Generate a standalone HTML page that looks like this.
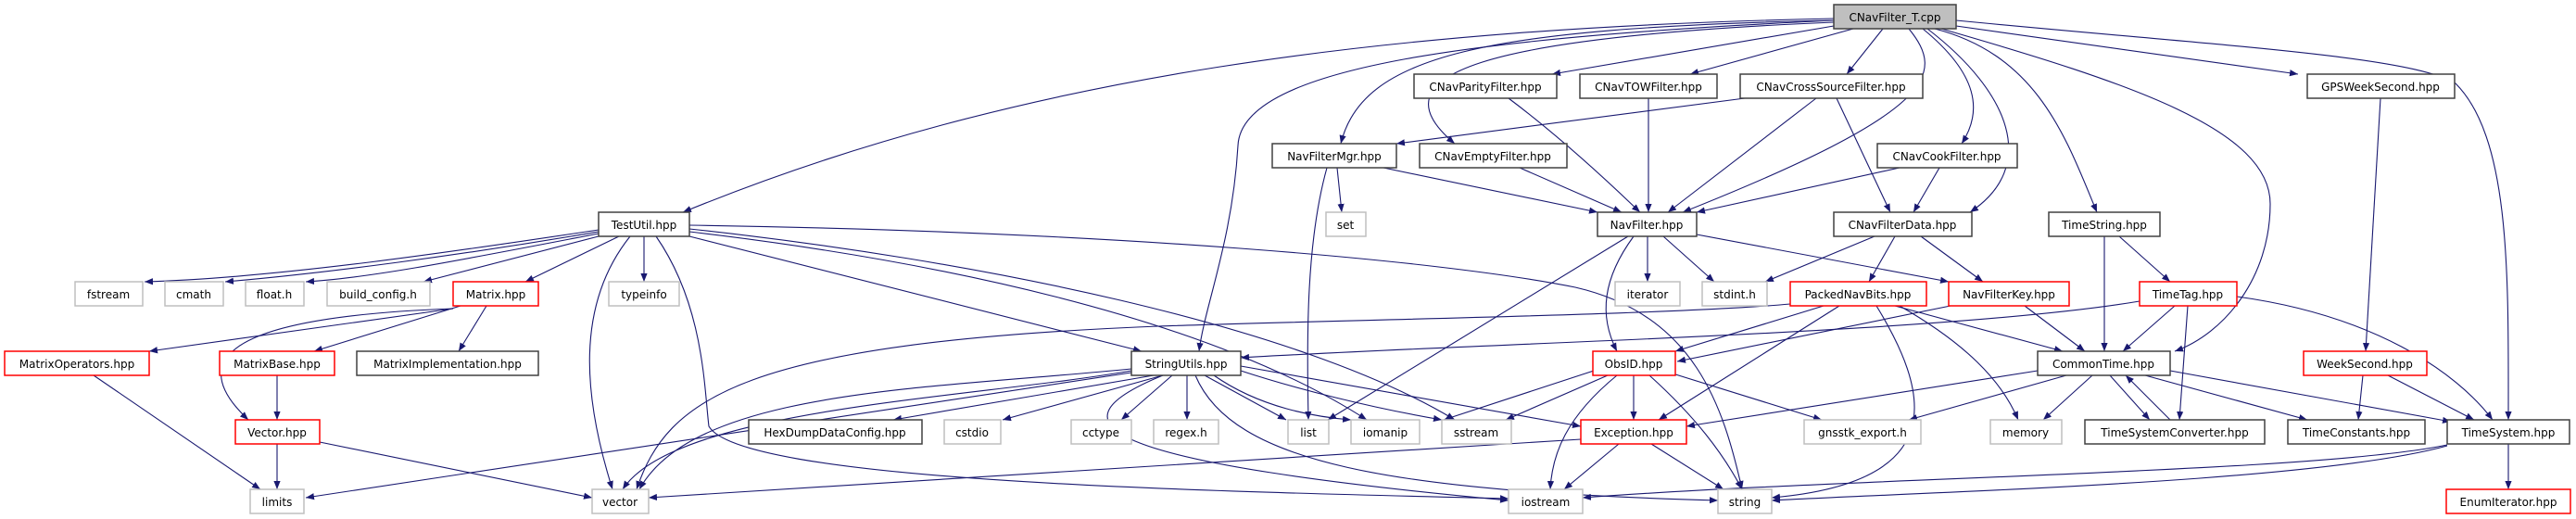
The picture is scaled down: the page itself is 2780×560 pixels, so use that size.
<!DOCTYPE html>
<html><head><meta charset="utf-8"><style>
html,body{margin:0;padding:0;background:#fff;}
svg{display:block;}
text{font-family:"DejaVu Sans","Liberation Sans",sans-serif;font-size:12px;text-anchor:middle;fill:#000;}
.e{fill:none;stroke:#191970;stroke-width:1.1;}
.b{fill:#fff;stroke:#404040;stroke-width:1.5;}
.g{fill:#fff;stroke:#bfbfbf;stroke-width:1.5;}
.r{fill:#fff;stroke:#ff0000;stroke-width:1.5;}
</style></head><body>
<svg width="2780" height="560" viewBox="0 0 2780 560" xmlns="http://www.w3.org/2000/svg">
<defs><marker id="a" viewBox="0 0 10 10" refX="10" refY="5" markerWidth="9" markerHeight="9" orient="auto" markerUnits="userSpaceOnUse"><path d="M0,1 L10,5 L0,9 z" fill="#191970"/></marker></defs>
<g marker-end="url(#a)">
<!-- root edges -->
<path class="e" d="M1979,20 C1500,30 1100,80 737,229"/>
<path class="e" d="M1979,22 C1600,40 1340,70 1336,157 C1330,260 1300,330 1294,379"/>
<path class="e" d="M1979,22 C1600,30 1470,60 1447,155"/>
<path class="e" d="M1979,24 C1600,40 1480,80 1570,155"/>
<path class="e" d="M1979,28 L1675,80"/>
<path class="e" d="M2000,31 L1824,80"/>
<path class="e" d="M2032,31 L1993,80"/>
<path class="e" d="M2060,31 C2100,80 2090,120 1816,229"/>
<path class="e" d="M2075,31 C2135,80 2140,120 2117,155"/>
<path class="e" d="M2080,31 C2170,100 2200,180 2126,229"/>
<path class="e" d="M2088,31 C2200,60 2230,150 2263,229"/>
<path class="e" d="M2095,31 C2300,90 2450,140 2450,220 C2450,300 2400,360 2347,379"/>
<path class="e" d="M2111,28 L2480,80"/>
<path class="e" d="M2111,22 C2400,50 2600,60 2650,90 C2710,150 2707,300 2707,453"/>
<!-- TestUtil -->
<path class="e" d="M646,248 C500,270 300,300 156,304"/>
<path class="e" d="M646,250 C500,275 350,295 243,304"/>
<path class="e" d="M646,252 C500,280 400,300 330,304"/>
<path class="e" d="M646,255 L457,304"/>
<path class="e" d="M668,255 L567,304"/>
<path class="e" d="M695,255 L695,304"/>
<path class="e" d="M680,255 C620,330 630,430 661,528"/>
<path class="e" d="M708,255 C760,330 760,420 765,460 C800,520 1300,530 1628,538"/>
<path class="e" d="M744,255 L1232,379"/>
<path class="e" d="M744,250 C1000,280 1300,340 1475,453"/>
<path class="e" d="M744,247 C1050,280 1400,350 1570,453"/>
<path class="e" d="M744,243 C1200,250 1550,280 1700,310 C1830,340 1860,440 1880,528"/>
<!-- Matrix -->
<path class="e" d="M489,333 L161,379"/>
<path class="e" d="M497,330 L339,379"/>
<path class="e" d="M525,330 L495,379"/>
<path class="e" d="M489,333 C300,340 180,370 268,453"/>
<path class="e" d="M101,405 L281,528"/>
<path class="e" d="M299,405 L299,453"/>
<path class="e" d="M299,479 L299,528"/>
<path class="e" d="M345,477 L639,537"/>
<!-- StringUtils -->
<path class="e" d="M1245,405 L964,453"/>
<path class="e" d="M1255,405 L1082,453"/>
<path class="e" d="M1265,405 L1210,453"/>
<path class="e" d="M1281,405 L1281,453"/>
<path class="e" d="M1300,405 L1388,453"/>
<path class="e" d="M1310,405 C1360,440 1420,450 1458,453"/>
<path class="e" d="M1339,400 C1400,420 1480,440 1556,453"/>
<path class="e" d="M1339,395 L1706,460"/>
<path class="e" d="M1221,398 C1000,420 750,420 690,528"/>
<path class="e" d="M1221,400 C1050,430 730,440 672,528"/>
<path class="e" d="M1221,402 L330,537"/>
<path class="e" d="M1255,405 C1120,460 1200,500 1628,540"/>
<path class="e" d="M1290,405 C1330,500 1500,530 1854,540"/>
<!-- NavFilterMgr etc -->
<path class="e" d="M1443,181 L1448,229"/>
<path class="e" d="M1432,181 C1410,260 1410,360 1412,453"/>
<path class="e" d="M1493,181 L1724,229"/>
<path class="e" d="M1640,181 L1750,229"/>
<path class="e" d="M1628,106 C1700,160 1760,220 1770,229"/>
<path class="e" d="M1779,106 L1779,229"/>
<path class="e" d="M1960,106 L1800,229"/>
<path class="e" d="M1883,106 L1507,155"/>
<path class="e" d="M1982,106 L2040,229"/>
<path class="e" d="M2050,181 L1831,229"/>
<path class="e" d="M2093,181 L2065,229"/>
<path class="e" d="M2569,106 L2553,379"/>
<!-- NavFilter -->
<path class="e" d="M1778,255 L1778,304"/>
<path class="e" d="M1795,255 L1850,304"/>
<path class="e" d="M1831,253 L2103,304"/>
<path class="e" d="M1763,255 C1730,300 1725,340 1745,379"/>
<path class="e" d="M1757,255 L1433,453"/>
<!-- CNavFilterData -->
<path class="e" d="M2023,255 L1905,304"/>
<path class="e" d="M2045,255 L2017,304"/>
<path class="e" d="M2073,255 L2140,304"/>
<!-- TimeString -->
<path class="e" d="M2271,255 L2271,379"/>
<path class="e" d="M2287,255 L2342,304"/>
<!-- PackedNavBits -->
<path class="e" d="M1932,328 C1800,340 1450,345 1250,352 C800,370 720,430 687,528"/>
<path class="e" d="M2309,325 C2100,360 1600,370 1339,386"/>
<path class="e" d="M1968,330 L1808,379"/>
<path class="e" d="M1985,330 L1790,453"/>
<path class="e" d="M2045,330 L2226,379"/>
<path class="e" d="M2050,330 C2120,370 2160,410 2178,453"/>
<path class="e" d="M2025,330 C2080,420 2110,520 1912,537"/>
<!-- NavFilterKey -->
<path class="e" d="M2105,330 L1810,390"/>
<path class="e" d="M2185,330 L2250,379"/>
<!-- TimeTag -->
<path class="e" d="M2347,330 L2291,379"/>
<path class="e" d="M2361,330 L2352,453"/>
<path class="e" d="M2414,320 C2560,340 2650,400 2690,453"/>
<!-- ObsID -->
<path class="e" d="M1720,400 L1558,453"/>
<path class="e" d="M1735,405 L1625,453"/>
<path class="e" d="M1763,405 L1763,453"/>
<path class="e" d="M1745,405 C1690,450 1675,490 1673,528"/>
<path class="e" d="M1780,405 C1830,450 1860,490 1880,528"/>
<path class="e" d="M1805,403 L1966,453"/>
<!-- CommonTime -->
<path class="e" d="M2199,400 L1820,460"/>
<path class="e" d="M2230,405 L2060,453"/>
<path class="e" d="M2258,405 L2205,453"/>
<path class="e" d="M2277,405 L2320,453"/>
<path class="e" d="M2342,453 L2294,405"/>
<path class="e" d="M2315,405 L2490,453"/>
<path class="e" d="M2342,400 L2645,455"/>
<!-- WeekSecond -->
<path class="e" d="M2550,405 L2545,453"/>
<path class="e" d="M2577,405 L2670,453"/>
<!-- Exception -->
<path class="e" d="M1706,474 L700,537"/>
<path class="e" d="M1747,479 L1688,528"/>
<path class="e" d="M1782,479 L1860,528"/>
<!-- TimeSystem -->
<path class="e" d="M2641,480 C2500,510 2000,515 1708,537"/>
<path class="e" d="M2641,481 C2500,520 2100,530 1912,540"/>
<path class="e" d="M2707,479 L2707,528"/>
</g>
<!-- nodes -->
<rect x="1979" y="5" width="132" height="26" fill="#bfbfbf" stroke="#404040" stroke-width="1.5"/><text x="2045" y="23">CNavFilter_T.cpp</text>
<rect class="b" x="1526" y="80" width="154" height="26"/><text x="1603" y="98">CNavParityFilter.hpp</text>
<rect class="b" x="1705" y="80" width="148" height="26"/><text x="1779" y="98">CNavTOWFilter.hpp</text>
<rect class="b" x="1878" y="80" width="197" height="26"/><text x="1976" y="98">CNavCrossSourceFilter.hpp</text>
<rect class="b" x="2490" y="80" width="159" height="26"/><text x="2569" y="98">GPSWeekSecond.hpp</text>
<rect class="b" x="1373" y="155" width="134" height="26"/><text x="1440" y="173">NavFilterMgr.hpp</text>
<rect class="b" x="1532" y="155" width="159" height="26"/><text x="1611" y="173">CNavEmptyFilter.hpp</text>
<rect class="b" x="2026" y="155" width="151" height="26"/><text x="2101" y="173">CNavCookFilter.hpp</text>
<rect class="b" x="646" y="229" width="98" height="26"/><text x="695" y="247">TestUtil.hpp</text>
<rect class="g" x="1431" y="229" width="43" height="26"/><text x="1452" y="247" fill="#000">set</text>
<rect class="b" x="1724" y="229" width="107" height="26"/><text x="1777" y="247">NavFilter.hpp</text>
<rect class="b" x="1979" y="229" width="149" height="26"/><text x="2053" y="247">CNavFilterData.hpp</text>
<rect class="b" x="2211" y="229" width="120" height="26"/><text x="2271" y="247">TimeString.hpp</text>
<rect class="g" x="81" y="304" width="73" height="26"/><text x="117" y="322">fstream</text>
<rect class="g" x="178" y="304" width="63" height="26"/><text x="209" y="322">cmath</text>
<rect class="g" x="265" y="304" width="63" height="26"/><text x="296" y="322">float.h</text>
<rect class="g" x="353" y="304" width="111" height="26"/><text x="408" y="322">build_config.h</text>
<rect class="r" x="489" y="304" width="92" height="26"/><text x="535" y="322">Matrix.hpp</text>
<rect class="g" x="657" y="304" width="76" height="26"/><text x="695" y="322">typeinfo</text>
<rect class="g" x="1743" y="304" width="70" height="26"/><text x="1778" y="322">iterator</text>
<rect class="g" x="1837" y="304" width="70" height="26"/><text x="1872" y="322">stdint.h</text>
<rect class="r" x="1932" y="304" width="147" height="26"/><text x="2005" y="322">PackedNavBits.hpp</text>
<rect class="r" x="2103" y="304" width="130" height="26"/><text x="2168" y="322">NavFilterKey.hpp</text>
<rect class="r" x="2309" y="304" width="105" height="26"/><text x="2361" y="322">TimeTag.hpp</text>
<rect class="r" x="5" y="379" width="156" height="26"/><text x="83" y="397">MatrixOperators.hpp</text>
<rect class="r" x="237" y="379" width="124" height="26"/><text x="299" y="397">MatrixBase.hpp</text>
<rect class="b" x="385" y="379" width="196" height="26"/><text x="483" y="397">MatrixImplementation.hpp</text>
<rect class="b" x="1221" y="379" width="118" height="26"/><text x="1280" y="397">StringUtils.hpp</text>
<rect class="r" x="1719" y="379" width="89" height="26"/><text x="1763" y="397">ObsID.hpp</text>
<rect class="b" x="2199" y="379" width="143" height="26"/><text x="2270" y="397">CommonTime.hpp</text>
<rect class="r" x="2486" y="379" width="133" height="26"/><text x="2552" y="397">WeekSecond.hpp</text>
<rect class="r" x="254" y="453" width="91" height="26"/><text x="299" y="471">Vector.hpp</text>
<rect class="b" x="808" y="453" width="187" height="26"/><text x="901" y="471">HexDumpDataConfig.hpp</text>
<rect class="g" x="1019" y="453" width="61" height="26"/><text x="1049" y="471">cstdio</text>
<rect class="g" x="1156" y="453" width="65" height="26"/><text x="1188" y="471">cctype</text>
<rect class="g" x="1245" y="453" width="70" height="26"/><text x="1280" y="471">regex.h</text>
<rect class="g" x="1390" y="453" width="44" height="26"/><text x="1412" y="471">list</text>
<rect class="g" x="1458" y="453" width="74" height="26"/><text x="1495" y="471">iomanip</text>
<rect class="g" x="1556" y="453" width="75" height="26"/><text x="1593" y="471">sstream</text>
<rect class="r" x="1706" y="453" width="114" height="26"/><text x="1763" y="471">Exception.hpp</text>
<rect class="g" x="1947" y="453" width="126" height="26"/><text x="2010" y="471">gnsstk_export.h</text>
<rect class="g" x="2148" y="453" width="77" height="26"/><text x="2186" y="471">memory</text>
<rect class="b" x="2250" y="453" width="194" height="26"/><text x="2347" y="471">TimeSystemConverter.hpp</text>
<rect class="b" x="2469" y="453" width="148" height="26"/><text x="2543" y="471">TimeConstants.hpp</text>
<rect class="b" x="2641" y="453" width="132" height="26"/><text x="2707" y="471">TimeSystem.hpp</text>
<rect class="g" x="270" y="528" width="58" height="26"/><text x="299" y="546">limits</text>
<rect class="g" x="639" y="528" width="61" height="26"/><text x="669" y="546">vector</text>
<rect class="g" x="1628" y="528" width="80" height="26"/><text x="1668" y="546">iostream</text>
<rect class="g" x="1854" y="528" width="58" height="26"/><text x="1883" y="546">string</text>
<rect class="r" x="2640" y="528" width="134" height="26"/><text x="2707" y="546">EnumIterator.hpp</text>
</svg>
</body></html>
